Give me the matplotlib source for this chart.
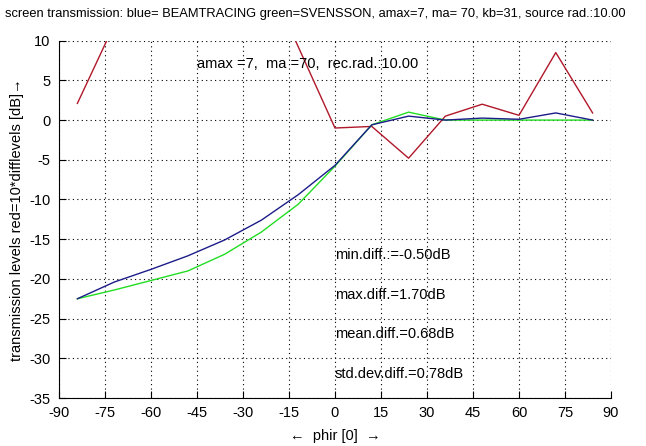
import matplotlib.pyplot as plt

# phi values (degrees) of the computed points
phi = [-84, -72, -60, -48, -36, -24, -12, 0, 12, 24, 36, 48, 60, 72, 84]
beamtracing = [-22.5, -20.4, -18.8, -17.1, -15.1, -12.6, -9.4, -5.7,
               -0.6, 0.5, 0.0, 0.25, 0.1, 0.9, 0.0]
svensson = [-22.5, -21.4, -20.2, -19.0, -16.9, -14.1, -10.6, -5.8,
            -0.6, 1.0, 0.0, 0.0, 0.0, 0.0, 0.0]
# red curve = 10*difflevels (goes off the top of the plot on the left)
red_phi = [-84, -72, -60, -48, -36, -24, 0, 12, 24, 36, 48, 60, 72, 84]
red_diff = [2.1, 12.0, 14.0, 16.0, 18.0, 19.5, -1.0, -0.8, -4.8, 0.5,
            2.0, 0.6, 8.5, 0.9]

xticks = list(range(-90, 91, 15))
yticks = list(range(-35, 11, 5))
stats = ['min.diff.:=-0.50dB', 'max.diff.=1.70dB',
         'mean.diff.=0.68dB', 'std.dev.diff.=0.78dB']
stats_y = [-17, -22, -27, -32]

plt.rcParams['font.family'] = ['Liberation Sans', 'DejaVu Sans']
plt.rcParams['axes.unicode_minus'] = False

fig = plt.figure(figsize=(6.46, 4.46), dpi=100)
ax = fig.add_axes([0.0913, 0.1076, 0.8545, 0.8012])

ax.plot(red_phi, red_diff, color='#b0182a', lw=1.0)
ax.plot(phi, svensson, color='#22dd22', lw=1.0)
ax.plot(phi, beamtracing, color='#1c1c8a', lw=1.0)

ax.set_xlim(-90, 90)
ax.set_ylim(-35, 10)
ax.set_xticks(xticks)
ax.set_yticks(yticks)
ax.tick_params(direction='in', length=5, labelsize=10.5, pad=6)
ax.grid(True, color='black', linestyle=(0, (1, 3)), lw=0.8)
ax.spines['top'].set_visible(False)
ax.spines['right'].set_visible(False)

ax.text(-45, 7, 'amax =7,  ma =70,  rec.rad.:10.00', fontsize=10.5,
        va='center', ha='left')
for s, y in zip(stats, stats_y):
    ax.text(0, y, s, fontsize=10.5, va='center', ha='left')

ax.set_xlabel('\u2190  phir [0]  \u2192', fontsize=10.5, labelpad=6)
ax.set_ylabel('transmission levels red=10*difflevels [dB]\u2192', fontsize=10.5,
              labelpad=4)

fig.text(5 / 646, 1 - 14 / 446,
         'screen transmission: blue= BEAMTRACING green=SVENSSON, amax=7, '
         'ma= 70, kb=31, source rad.:10.00',
         fontsize=9.3, va='center', ha='left')

plt.savefig('out.png', dpi=100)
